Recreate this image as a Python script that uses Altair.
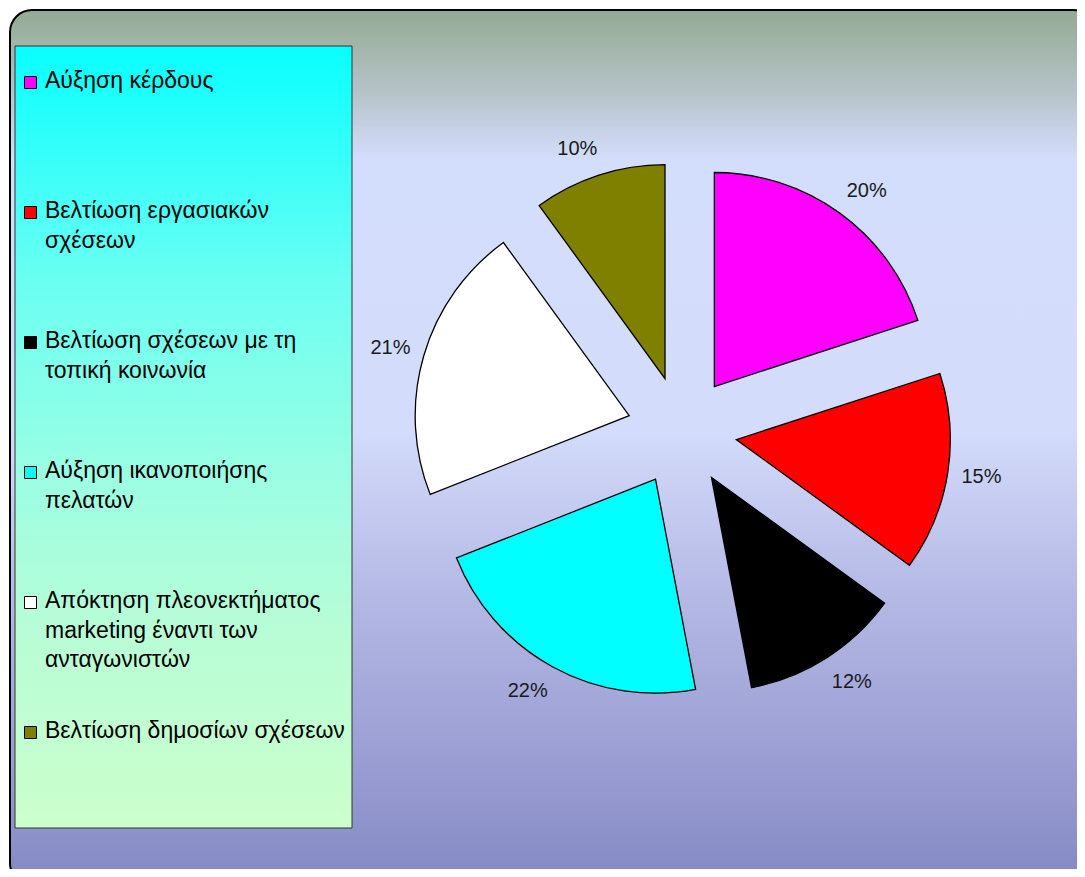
import math
import altair as alt
import pandas as pd

# ---------------- data ----------------
categories = [
    "Αύξηση κέρδους",
    "Βελτίωση εργασιακών σχέσεων",
    "Βελτίωση σχέσεων με τη τοπική κοινωνία",
    "Αύξηση ικανοποιήσης πελατών",
    "Απόκτηση πλεονεκτήματος marketing έναντι των ανταγωνιστών",
    "Βελτίωση δημοσίων σχέσεων",
]
legend_lines = [
    ["Αύξηση κέρδους"],
    ["Βελτίωση εργασιακών", "σχέσεων"],
    ["Βελτίωση σχέσεων με τη", "τοπική κοινωνία"],
    ["Αύξηση ικανοποιήσης", "πελατών"],
    ["Απόκτηση πλεονεκτήματος", "marketing έναντι των", "ανταγωνιστών"],
    ["Βελτίωση δημοσίων σχέσεων"],
]
values = [20, 15, 12, 22, 21, 10]
colors = ["#ff00ff", "#ff0000", "#000000", "#00ffff", "#ffffff", "#808000"]

FONT = "Liberation Sans"
W, H = 1069, 861

pie_df = pd.DataFrame({
    "category": categories,
    "value": values,
    "order": list(range(len(categories))),
})
legend_df = pd.DataFrame({
    "category": categories,
    "idx": list(range(len(categories))),
    "lines": legend_lines,
})
one = pd.DataFrame({"a": [0]})

# ---------------- decoration ----------------
frame = alt.Chart(one).mark_rect(
    cornerRadius=22,
    stroke="#000000",
    strokeWidth=2,
    fill=alt.Gradient(
        gradient="linear", x1=0, x2=0, y1=0, y2=1,
        stops=[
            alt.GradientStop(color="#93aa93", offset=0),
            alt.GradientStop(color="#b4c2c6", offset=0.09),
            alt.GradientStop(color="#d3ddfc", offset=0.17),
            alt.GradientStop(color="#d3dcfb", offset=0.48),
            alt.GradientStop(color="#b6bae6", offset=0.66),
            alt.GradientStop(color="#8589c4", offset=1),
        ],
    ),
).encode(x=alt.value(2), x2=alt.value(1087), y=alt.value(2), y2=alt.value(877))

legend_box = alt.Chart(one).mark_rect(
    stroke="#333333",
    strokeWidth=1,
    fill=alt.Gradient(
        gradient="linear", x1=0, x2=0, y1=0, y2=1,
        stops=[
            alt.GradientStop(color="#08ffff", offset=0),
            alt.GradientStop(color="#6afff2", offset=0.3),
            alt.GradientStop(color="#9bfee3", offset=0.55),
            alt.GradientStop(color="#b8fdd6", offset=0.75),
            alt.GradientStop(color="#ccffcc", offset=1),
        ],
    ),
).encode(x=alt.value(7), x2=alt.value(344), y=alt.value(38), y2=alt.value(820))

color_scale = alt.Scale(domain=categories, range=colors)

squares = alt.Chart(legend_df).mark_square(
    size=144, opacity=1, stroke="#000000", strokeWidth=1
).encode(
    x=alt.value(22.5),
    y=alt.Y("idx:Q", scale=alt.Scale(domain=[0, 5], range=[74.5, 724.5]), axis=None),
    color=alt.Color("category:N", scale=color_scale, legend=None),
)

legend_text = alt.Chart(legend_df).mark_text(
    align="left", baseline="alphabetic", font=FONT, fontSize=23,
    lineHeight=29.5, color="#000000",
).encode(
    x=alt.value(37),
    y=alt.Y("idx:Q", scale=alt.Scale(domain=[0, 5], range=[80, 730]), axis=None),
    text=alt.Text("lines:N"),
)

# ---------------- exploded pie ----------------
base = alt.Chart(pie_df).transform_window(
    cum_end="sum(value)", sort=[alt.SortField("order")]
).transform_calculate(
    start="datum.cum_end - datum.value",
    ang="(datum.cum_end - datum.value / 2) / 100 * 2 * PI",
    cx="674 + 55 * sin(datum.ang)",
    cy="423 - 55 * cos(datum.ang)",
    lx="datum.cx + 232 * sin(datum.ang) + 16 * (sin(datum.ang) >= 0 ? 1 : -1)",
    ly="datum.cy - 242 * cos(datum.ang)",
    label="datum.value + '%'",
)

arcs = base.mark_arc(radius=214, stroke="#000000", strokeWidth=1.3).encode(
    theta=alt.Theta("start:Q", scale=alt.Scale(domain=[0, 100], range=[0, 2 * math.pi]), stack=False),
    theta2="cum_end:Q",
    x=alt.X("cx:Q", scale=None, axis=None),
    y=alt.Y("cy:Q", scale=None, axis=None),
    color=alt.Color("category:N", scale=color_scale, legend=None),
)

labels = base.mark_text(
    font=FONT, fontSize=20, color="#1a1a1a", align="center", baseline="middle"
).encode(
    x=alt.X("lx:Q", scale=None, axis=None),
    y=alt.Y("ly:Q", scale=None, axis=None),
    text="label:N",
)

chart = alt.layer(
    frame, legend_box, squares, legend_text, arcs, labels
).resolve_scale(
    x="independent", y="independent", color="shared"
).properties(
    width=W, height=H,
    autosize=alt.AutoSizeParams(type="none"),
    padding=0,
    background="white",
).configure_view(stroke=None)

chart.save("out.html", embed_options={"renderer": "svg", "actions": False})
